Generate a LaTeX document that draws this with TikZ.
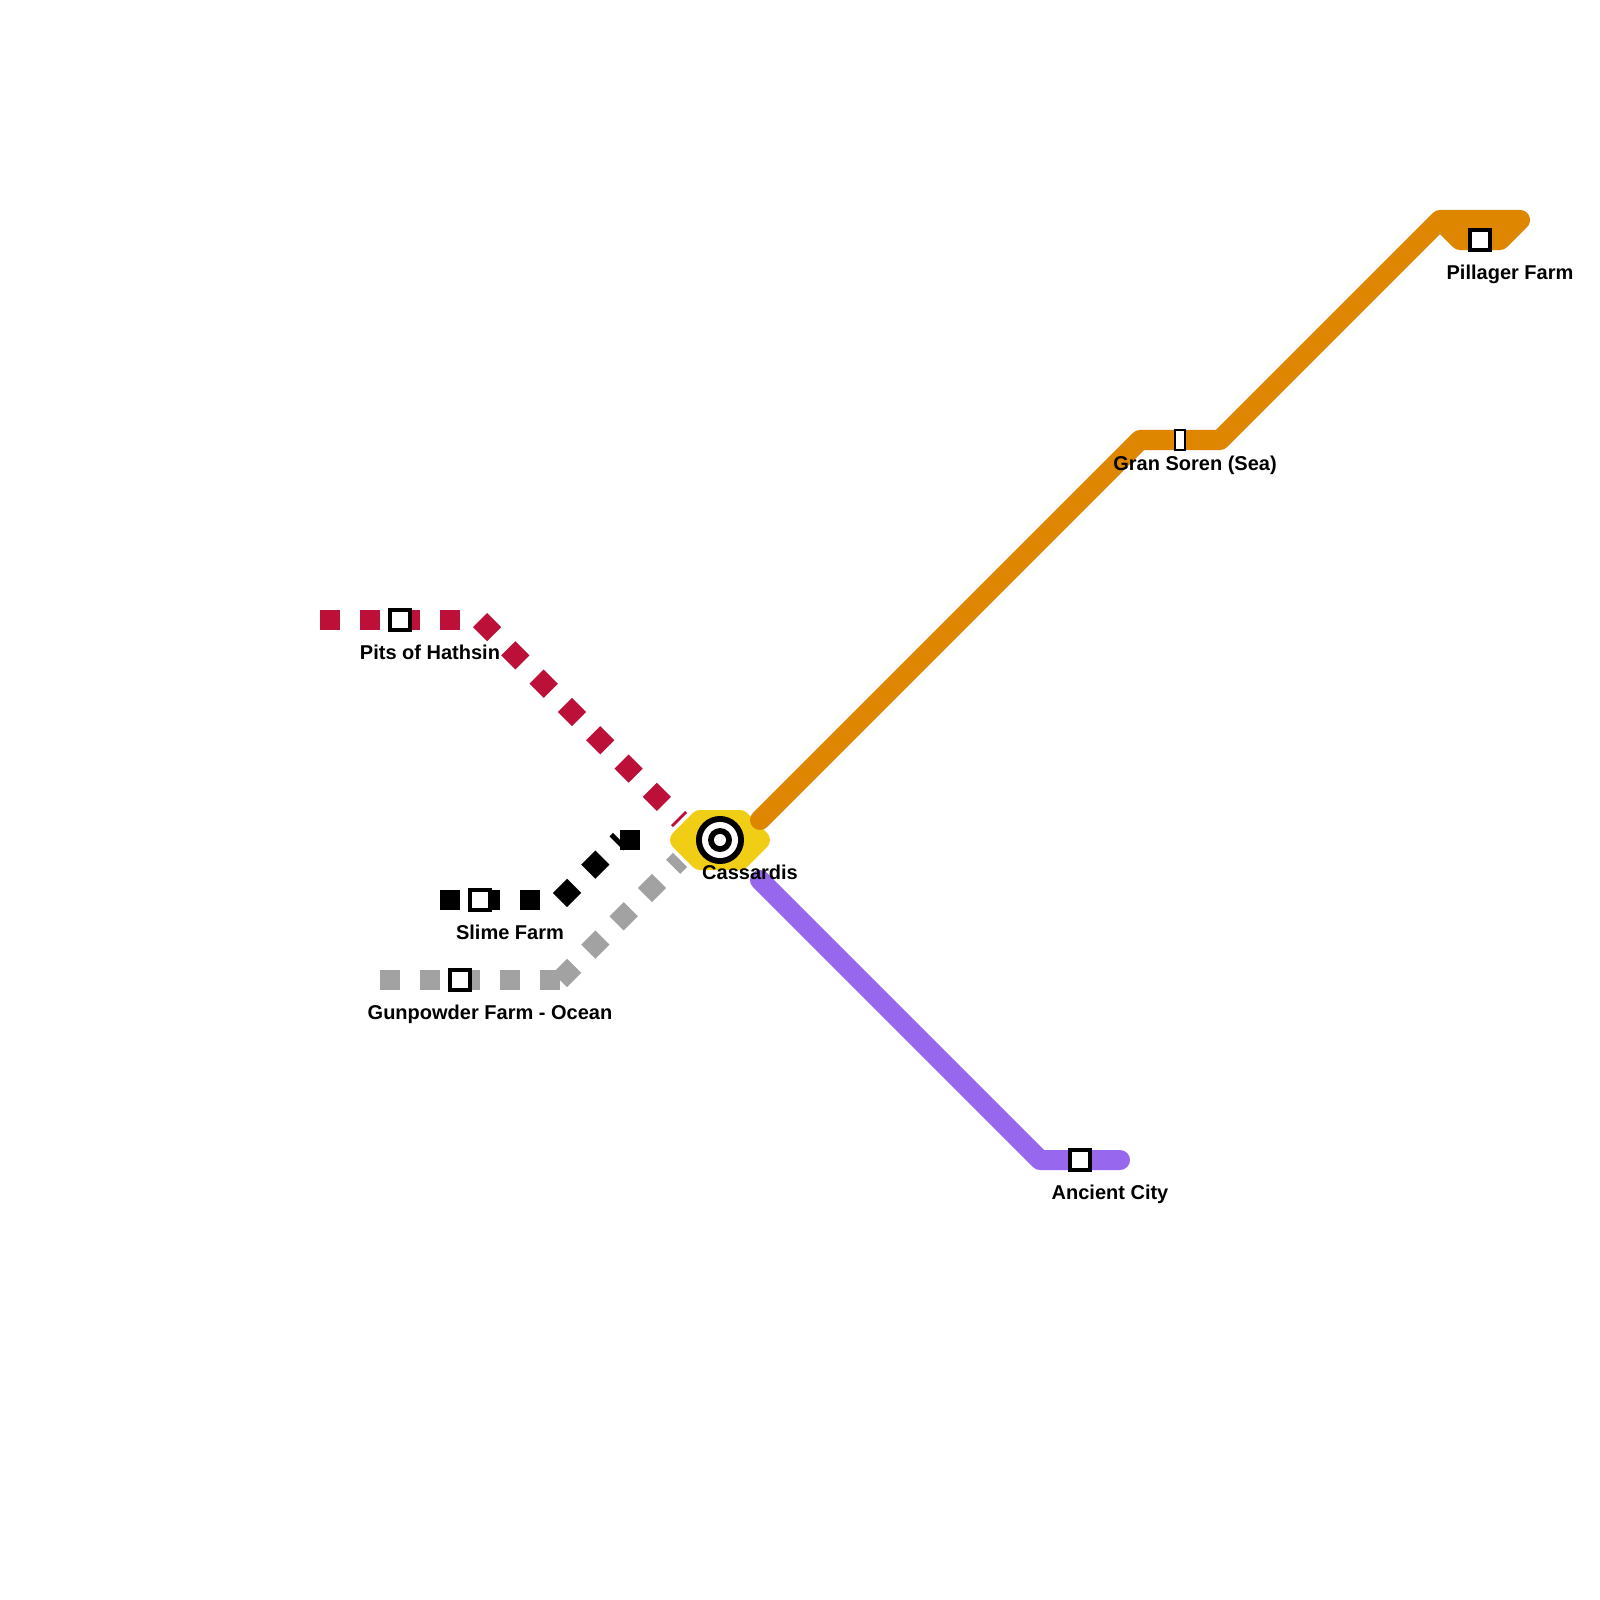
\documentclass[tikz,border=0pt]{standalone}
\usepackage{fontspec}
\setmainfont{Liberation Sans}
\usepackage{tikz}
\usetikzlibrary{positioning}

\definecolor{rubyline}{HTML}{BD1038}
\definecolor{orangeline}{HTML}{DF8600}
\definecolor{purpleline}{HTML}{9768EE}
\definecolor{silverline}{HTML}{A2A2A2}
\definecolor{hubyellow}{HTML}{F0CE15}

\begin{document}
\begin{tikzpicture}[
  x=0.01cm, y=-0.01cm,
  solidline/.style={line width=0.2cm, line cap=round, line join=round},
  dottedline/.style={line width=0.2cm, dash pattern=on 0.2cm off 0.2cm},
  stationbox/.style={rectangle, draw=black, fill=white, line width=0.04cm, minimum size=0.2cm, inner sep=0pt, outer sep=0pt},
  narrowbox/.style={stationbox, line width=0.02cm, minimum width=0.1cm, minimum height=0.2cm},
  hubring/.style={circle, inner sep=0pt, outer sep=0pt},
  stationname/.style={anchor=base, inner sep=0pt, outer sep=0pt, font=\fontsize{5.69}{6.8}\selectfont\bfseries}
]
\useasboundingbox (0,0) rectangle (1600,1600);

% corners of the lines
\coordinate (hub) at (720,840);
\coordinate (oA) at (760,820);
\coordinate (oB) at (1140,440);
\coordinate (oC) at (1220,440);
\coordinate (oD) at (1440,220);
\coordinate (oE) at (1520,220);
\coordinate (oF) at (1500,240);
\coordinate (oG) at (1460,240);
\coordinate (pA) at (760,880);
\coordinate (pB) at (1040,1160);
\coordinate (pC) at (1120,1160);
\coordinate (rA) at (320,620);
\coordinate (rB) at (480,620);
\coordinate (rC) at (680,820);
\coordinate (kA) at (440,900);
\coordinate (kB) at (560,900);
\coordinate (kC) at (620,840);
\coordinate (kD) at (640,840);
\coordinate (sA) at (380,980);
\coordinate (sB) at (560,980);
\coordinate (sC) at (680,860);
\coordinate (hexA) at (700,820);
\coordinate (hexB) at (740,820);
\coordinate (hexC) at (760,840);
\coordinate (hexD) at (740,860);
\coordinate (hexE) at (700,860);
\coordinate (hexF) at (680,840);

% interchange
\draw[solidline, hubyellow, fill=hubyellow] (hexA) -- (hexB) -- (hexC) -- (hexD) -- (hexE) -- (hexF) -- cycle;

% lines
\draw[solidline, orangeline] (oA) -- (oB) -- (oC) -- (oD) -- (oE) -- (oF) -- (oG) -- (oD);
\draw[solidline, purpleline] (pA) -- (pB) -- (pC);
\draw[dottedline, rubyline] (rA) -- (rB);
\draw[dottedline, rubyline] (rB) -- (rC);
\draw[dottedline, black] (kA) -- (kB);
\draw[dottedline, black] (kB) -- (kC);
\draw[dottedline, black] (kC) -- (kD);
\draw[dottedline, silverline] (sA) -- (sB);
\draw[dottedline, silverline] (sB) -- (sC);

% stations
\node[stationbox] (pits) at (400,620) {};
\node[stationbox] (slime) at (480,900) {};
\node[stationbox] (gunpowder) at (460,980) {};
\node[stationbox] (pillager) at (1480,240) {};
\node[stationbox] (ancient) at (1080,1160) {};
\node[narrowbox] (gransoren) at (1180,440) {};
\node[hubring, fill=black, minimum size=0.48cm] (hubA) at (hub) {};
\node[hubring, fill=white, minimum size=0.36cm] (hubB) at (hub) {};
\node[hubring, fill=black, minimum size=0.24cm] (hubC) at (hub) {};
\node[hubring, fill=white, minimum size=0.12cm] (hubD) at (hub) {};

% names
\node[stationname] (pitsname) at (430,659) {Pits of Hathsin};
\node[stationname] (slimename) at (510,939) {Slime Farm};
\node[stationname] (gunpowdername) at (490,1019) {Gunpowder Farm - Ocean};
\node[stationname] (pillagername) at (1510,279) {Pillager Farm};
\node[stationname] (ancientname) at (1110,1199) {Ancient City};
\node[stationname] (gransorenname) at (1195,470) {Gran Soren (Sea)};
\node[stationname] (hubname) at (750,879) {Cassardis};
\end{tikzpicture}
\end{document}
